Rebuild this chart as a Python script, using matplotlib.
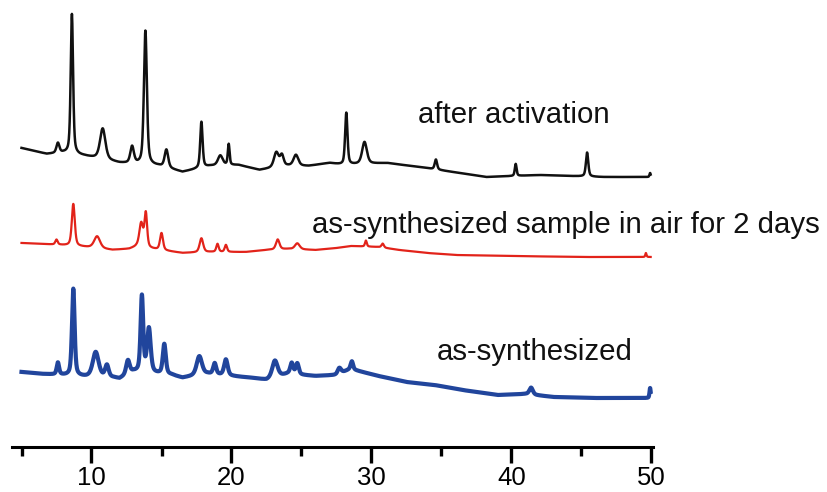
import numpy as np
import matplotlib.pyplot as plt

# 2-theta scan range
two_theta = np.arange(5.0, 49.95, 0.01)

# background levels (a.u.) at selected 2-theta positions
black_bg_x = [5.0, 6.8, 8.0, 9.5, 12.0, 14.8, 16.5, 18.5, 20.5, 22.0, 24.0, 25.5,
              27.0, 28.0, 31.1, 33.4, 36.3, 38.2, 42.0, 46.5, 50.0]
black_bg_y = [29, 23, 24, 21, 14, 11, 5, 11, 12, 7, 11, 11,
              14, 12, 14, 10, 4, 0, 2, 0, 0]

red_bg_x = [5.0, 6.5, 7.8, 9.5, 11.5, 12.7, 13.2, 16.5, 18.5, 21.0, 22.5, 24.0,
            26.0, 27.5, 28.5, 30.5, 32.0, 34.0, 36.0, 40.0, 45.0, 50.0]
red_bg_y = [14, 13, 12, 10, 7, 8, 10, 4, 5, 5, 7, 8,
            7, 9, 11, 10, 7, 4, 2, 1, 0, 0]

blue_bg_x = [5.0, 6.5, 7.8, 9.6, 11.6, 12.0, 13.0, 15.7, 16.5, 18.3, 21.5, 22.5,
             24.0, 26.0, 27.5, 28.5, 30.5, 32.5, 34.5, 36.5, 39.0, 41.0, 43.0, 46.0, 50.0]
blue_bg_y = [26, 24, 23, 21, 20, 19, 26, 23, 20, 24, 20, 18,
             24, 22, 23, 29, 22, 16, 13, 8, 3, 4, 1, 0, 0]

# reflections: position (deg), height (a.u.), fwhm (deg)
black_pos = [7.6, 8.6, 10.8, 12.9, 13.85, 15.35, 17.85, 19.2, 19.8, 23.2, 23.6,
             24.6, 28.2, 29.5, 34.6, 40.3, 45.4, 49.9]
black_hgt = [10, 140, 31, 17, 134, 18, 46, 10, 21, 15, 11,
             11, 52, 22, 10, 12, 24, 4]
black_fw = [0.25, 0.2, 0.45, 0.3, 0.25, 0.3, 0.2, 0.4, 0.15, 0.4, 0.3,
            0.4, 0.2, 0.4, 0.2, 0.15, 0.2, 0.1]

red_pos = [7.5, 8.7, 10.4, 13.55, 13.88, 15.0, 17.85, 19.0, 19.6, 23.3, 24.7,
           29.6, 30.8, 49.6]
red_hgt = [5, 42, 12, 24, 34, 17, 14, 8, 7, 10, 6,
           6, 4, 4]
red_fw = [0.2, 0.25, 0.5, 0.32, 0.22, 0.25, 0.3, 0.2, 0.2, 0.3, 0.4,
          0.15, 0.2, 0.1]

blue_pos = [7.6, 8.7, 10.3, 11.1, 12.6, 13.6, 14.1, 15.2, 17.7, 18.8, 19.6,
            23.1, 24.3, 24.7, 27.7, 28.6, 41.4, 49.9]
blue_hgt = [12, 87, 25, 12, 14, 76, 44, 30, 19, 11, 16,
            17, 11, 11, 6, 8, 7, 10]
blue_fw = [0.2, 0.22, 0.5, 0.3, 0.3, 0.22, 0.3, 0.25, 0.45, 0.25, 0.3,
           0.45, 0.25, 0.25, 0.3, 0.2, 0.3, 0.1]

# vertical offsets of the stacked patterns
offsets = {"black": 270, "red": 190, "blue": 49}

labels = ["after activation", "as-synthesized sample in air for 2 days", "as-synthesized"]


def pattern(bg_x, bg_y, pos, hgt, fw):
    y = np.interp(two_theta, bg_x, bg_y)
    for p, h, w in zip(pos, hgt, fw):
        g = np.exp(-4 * np.log(2) * ((two_theta - p) / w) ** 2)
        l = 1 / (1 + 4 * ((two_theta - p) / w) ** 2)
        y += h * (0.5 * g + 0.5 * l)
    return y


fig = plt.figure(figsize=(8.27, 4.92), dpi=100)
ax = fig.add_axes([11.7 / 827, 45 / 492, (652.9 - 11.7) / 827, 447 / 492])

ax.plot(two_theta, offsets["black"] + pattern(black_bg_x, black_bg_y, black_pos, black_hgt, black_fw),
        color="#111111", lw=1.8)
ax.plot(two_theta, offsets["red"] + pattern(red_bg_x, red_bg_y, red_pos, red_hgt, red_fw),
        color="#e2231a", lw=1.6)
ax.plot(two_theta, offsets["blue"] + pattern(blue_bg_x, blue_bg_y, blue_pos, blue_hgt, blue_fw),
        color="#21459c", lw=3.0)

txt = dict(fontsize=21.2, family=["Liberation Sans", "DejaVu Sans"], va="baseline",
           ha="left", color="#111111", clip_on=False)
ax.text(33.32, 324, labels[0], **txt)
ax.text(25.75, 214, labels[1], **txt)
ax.text(34.68, 87, labels[2], **txt)

ax.set_xlim(4.3, 50.1)
ax.set_ylim(0, 447)
for s in ["left", "right", "top"]:
    ax.spines[s].set_visible(False)
ax.spines["bottom"].set_linewidth(2.2)
ax.set_yticks([])
ax.set_xticks([10, 20, 30, 40, 50])
ax.set_xticks([5, 15, 25, 35, 45], minor=True)
ax.tick_params(axis="x", which="major", length=11.5, width=2.4, pad=2.5,
               labelsize=18.5)
ax.tick_params(axis="x", which="minor", length=6.5, width=2.4)
for lab in ax.get_xticklabels():
    lab.set_family(["Liberation Sans", "DejaVu Sans"])

fig.savefig("out.png", dpi=100)
